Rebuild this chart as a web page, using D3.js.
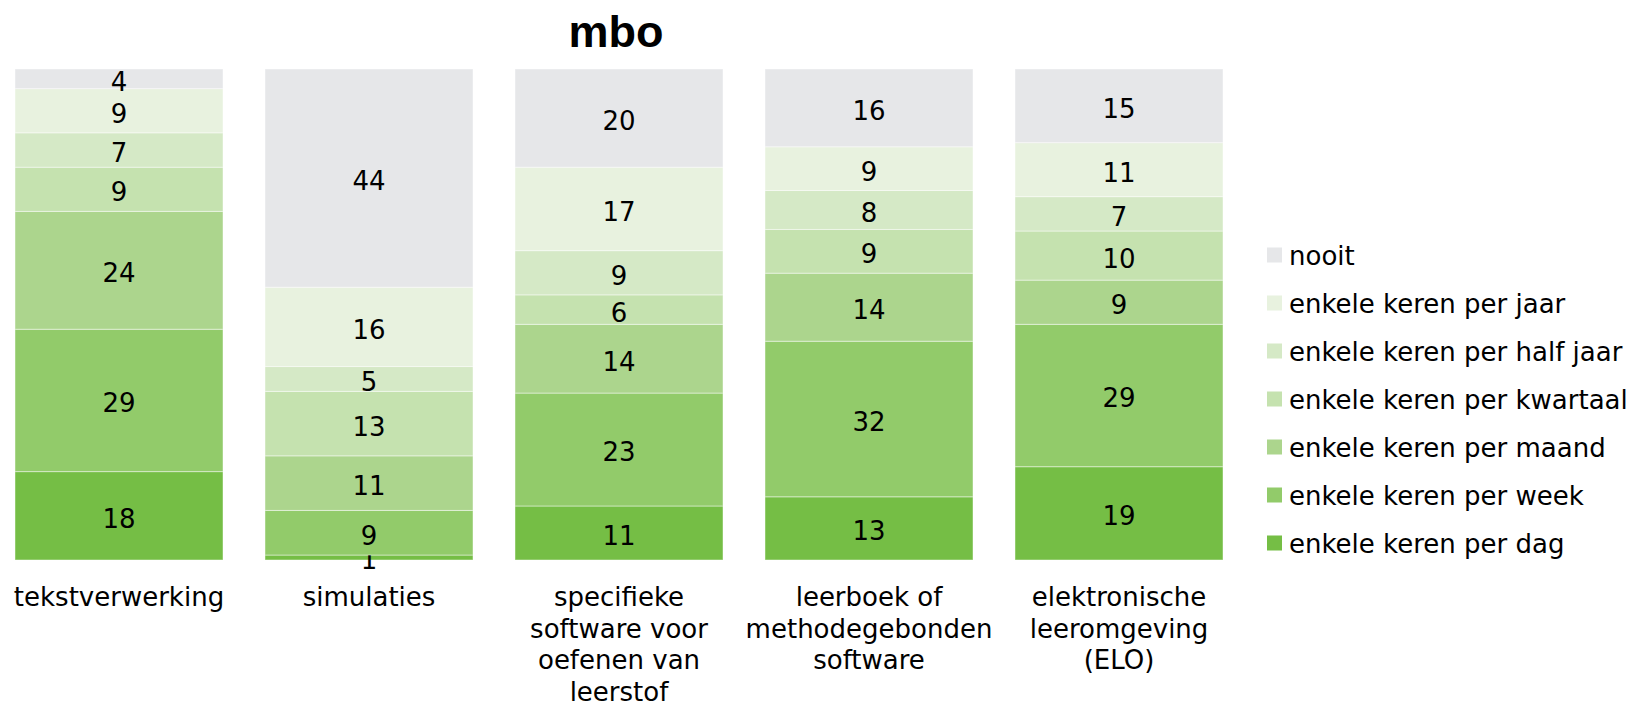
<!DOCTYPE html>
<html>
<head>
<meta charset="utf-8">
<script src="https://cdnjs.cloudflare.com/ajax/libs/d3/7.8.5/d3.min.js"></script>
<style>
  body { margin: 0; background: #fff; }
  text { font-family: "DejaVu Sans", Verdana, sans-serif; fill: #000; }
  .title { font-family: "Liberation Sans", Arial, sans-serif; font-weight: bold; }
</style>
</head>
<body>
<div id="chart"></div>
<script>
// data
var categories = ["tekstverwerking", "simulaties", "specifieke software voor oefenen van leerstof",
                  "leerboek of methodegebonden software", "elektronische leeromgeving (ELO)"];
var levels = ["enkele keren per dag", "enkele keren per week", "enkele keren per maand",
              "enkele keren per kwartaal", "enkele keren per half jaar", "enkele keren per jaar", "nooit"];
var perDag      = [18, 1, 11, 13, 19];
var perWeek     = [29, 9, 23, 32, 29];
var perMaand    = [24, 11, 14, 14, 9];
var perKwartaal = [9, 13, 6, 9, 10];
var perHalfJaar = [7, 5, 9, 8, 7];
var perJaar     = [9, 16, 17, 9, 11];
var nooit       = [4, 44, 20, 16, 15];
var colors = ["#75be45", "#92cb6a", "#acd58d", "#c5e2af", "#d5e9c6", "#e8f2df", "#e6e7e9"];

var series = [perDag, perWeek, perMaand, perKwartaal, perHalfJaar, perJaar, nooit];
var rows = categories.map(function(c, i) {
  var r = {cat: c};
  levels.forEach(function(l, j) { r[l] = series[j][i]; });
  return r;
});

// 1: svg
var width = 1639, height = 704;
var svg = d3.select("#chart").append("svg")
    .attr("width", width)
    .attr("height", height);

// 2: scales
var x = d3.scaleBand()
    .domain(categories)
    .range([15, 1223])
    .paddingInner(0.168)
    .paddingOuter(0);
var y = d3.scaleLinear()
    .domain([0, 1])
    .range([560, 69]);
var color = d3.scaleOrdinal().domain(levels).range(colors);

var stack = d3.stack().keys(levels).offset(d3.stackOffsetExpand);
var stacked = stack(rows);

// 3: bars
var layer = svg.append("g").selectAll("g")
  .data(stacked)
  .join("g")
    .attr("fill", function(d) { return color(d.key); });

layer.selectAll("rect")
  .data(function(d) { return d; })
  .join("rect")
    .attr("x", function(d) { return x(d.data.cat); })
    .attr("y", function(d) { return y(d[1]); })
    .attr("width", x.bandwidth())
    .attr("height", function(d) { return y(d[0]) - y(d[1]); })
    .attr("stroke", "#fff")
    .attr("stroke-opacity", 0.45)
    .attr("stroke-width", 1);

// 4: value labels
layer.selectAll("text")
  .data(function(d) { return d.map(function(p) { p.key = d.key; return p; }); })
  .join("text")
    .attr("x", function(d) { return x(d.data.cat) + x.bandwidth() / 2; })
    .attr("y", function(d) { return (y(d[0]) + y(d[1])) / 2; })
    .attr("text-anchor", "middle")
    .attr("dy", "0.46em")
    .style("font-size", "26px")
    .text(function(d) { return d.data[d.key]; });

// 5: x axis labels
var xAxis = d3.axisBottom(x).tickSize(0).tickPadding(0);
var xGroup = svg.append("g")
    .attr("transform", "translate(0,560)")
    .call(xAxis);
xGroup.select(".domain").remove();
xGroup.selectAll("text")
    .attr("y", 46)
    .attr("dy", 0)
    .style("font-size", "26px")
    .style("font-family", "'DejaVu Sans', Verdana, sans-serif")
    .attr("fill", "#000")
    .call(wrap, x.bandwidth() + 10);

function wrap(text, w) {
  text.each(function() {
    var t = d3.select(this),
        words = t.text().split(/\s+/),
        line = [], lineNo = 0,
        yy = t.attr("y");
    var tspan = t.text(null).append("tspan").attr("x", 0).attr("y", yy);
    words.forEach(function(word) {
      line.push(word);
      tspan.text(line.join(" "));
      if (tspan.node().getComputedTextLength() > w && line.length > 1) {
        line.pop();
        tspan.text(line.join(" "));
        line = [word];
        lineNo++;
        tspan = t.append("tspan").attr("x", 0).attr("y", +yy + lineNo * 31.5).text(word);
      }
    });
  });
}

// 6: title
svg.append("text")
    .attr("class", "title")
    .attr("x", 616)
    .attr("y", 47)
    .attr("text-anchor", "middle")
    .style("font-size", "45px")
    .text("mbo");

// 7: legend
var legend = svg.append("g")
    .attr("transform", "translate(1267,255)")
  .selectAll("g")
  .data(levels.slice().reverse())
  .join("g")
    .attr("transform", function(d, i) { return "translate(0," + i * 48 + ")"; });
legend.append("rect")
    .attr("x", 0).attr("y", -7.5)
    .attr("width", 15).attr("height", 15)
    .attr("fill", function(d) { return color(d); });
legend.append("text")
    .attr("x", 22)
    .attr("dy", "0.40em")
    .style("font-size", "26px")
    .text(function(d) { return d; });
</script>
</body>
</html>
